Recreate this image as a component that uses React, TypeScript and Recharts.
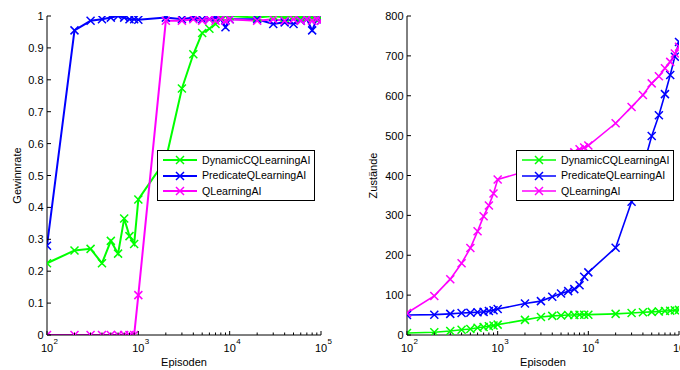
import React from 'react';
import { LineChart, Line, XAxis, YAxis, Legend } from 'recharts';

const episodes = [100, 200, 300, 400, 500, 600, 700, 800, 900, 1000, 2000, 3000, 4000, 5000, 6000, 7000, 8000, 9000, 10000, 20000, 30000, 40000, 50000, 60000, 70000, 80000, 90000, 100000];
const majorTicks = [100, 1000, 10000, 100000];
const majorExponents = ['2', '3', '4', '5'];

const winDynamic = [0.225, 0.265, 0.27, 0.225, 0.295, 0.255, 0.365, 0.31, 0.285, 0.425, 0.55, 0.773, 0.88, 0.947, 0.96, 0.975, 0.995, 1.0, 1.0, 0.995, 1.0, 0.995, 1.0, 0.995, 1.0, 0.995, 1.0, 0.995];
const winPredicate = [0.28, 0.955, 0.985, 0.99, 0.995, 1.0, 0.995, 0.99, 0.99, 0.988, 0.995, 0.99, 0.995, 0.99, 0.99, 0.995, 0.99, 0.965, 0.99, 0.99, 0.975, 0.98, 0.975, 0.985, 0.99, 0.955, 0.99, 0.985];
const winQ = [0, 0, 0, 0, 0, 0, 0, 0, 0, 0.125, 0.985, 0.985, 0.99, 0.985, 0.99, 0.985, 0.99, 0.985, 0.99, 0.985, 0.99, 0.985, 0.99, 0.985, 0.99, 0.985, 0.99, 0.985];

const statesDynamic = [5, 7, 10, 13, 15, 18, 20, 22, 24, 26, 38, 45, 48, 49, 50, 50, 51, 51, 51, 53, 55, 57, 58, 59, 60, 61, 62, 63];
const statesPredicate = [50, 51, 53, 55, 56, 57, 58, 60, 62, 65, 79, 85, 96, 104, 110, 115, 125, 146, 157, 219, 334, 420, 499, 551, 604, 652, 698, 735];
const statesQ = [55, 98, 140, 180, 218, 260, 298, 325, 355, 390, 410, 425, 435, 445, 452, 458, 466, 470, 475, 531, 572, 602, 631, 649, 669, 685, 706, 723];

const winTicks = [0, 0.1, 0.2, 0.3, 0.4, 0.5, 0.6, 0.7, 0.8, 0.9, 1];
const winTickLabels = ['0', '0.1', '0.2', '0.3', '0.4', '0.5', '0.6', '0.7', '0.8', '0.9', '1'];
const stateTicks = [0, 100, 200, 300, 400, 500, 600, 700, 800];
const stateTickLabels = ['0', '100', '200', '300', '400', '500', '600', '700', '800'];

const seriesNames = ['DynamicCQLearningAI', 'PredicateQLearningAI', 'QLearningAI'];
const seriesKeys = ['dyn', 'pred', 'q'];
const seriesColors = ['#00ff00', '#0000ff', '#ff00ff'];

const FONT = '"Liberation Sans", Arial, Helvetica, sans-serif';

const winData = episodes.map((e, i) => ({ ep: e, dyn: winDynamic[i], pred: winPredicate[i], q: winQ[i] }));
const stateData = episodes.map((e, i) => ({ ep: e, dyn: statesDynamic[i], pred: statesPredicate[i], q: statesQ[i] }));

const makeDot = (color: string, sw: number) => (props: any) => {
  const { cx, cy, index } = props;
  if (cx == null || cy == null) return <g key={`d${index}`} />;
  const s = 4;
  return (
    <path
      key={`d${index}`}
      d={`M${cx - s},${cy - s}L${cx + s},${cy + s}M${cx - s},${cy + s}L${cx + s},${cy - s}`}
      stroke={color}
      strokeWidth={sw}
      fill="none"
    />
  );
};

const BottomTick = (props: any) => {
  const { x, y, payload } = props;
  const v = payload.value;
  const mi = majorTicks.indexOf(v);
  const len = mi >= 0 ? 4 : 2.5;
  return (
    <g>
      <line x1={x} y1={y} x2={x} y2={y - len} stroke="#000" strokeWidth={1} />
      {mi >= 0 && (
        <text x={x} y={y + 17} textAnchor="middle" fontSize={11} fill="#000" fontFamily={FONT}>10</text>
      )}
      {mi >= 0 && (
        <text x={x + 6.5} y={y + 8.5} textAnchor="start" fontSize={8} fill="#000" fontFamily={FONT}>{majorExponents[mi]}</text>
      )}
    </g>
  );
};

const TopTick = (props: any) => {
  const { x, y, payload } = props;
  const len = majorTicks.indexOf(payload.value) >= 0 ? 4 : 2.5;
  return <line x1={x} y1={y} x2={x} y2={y + len} stroke="#000" strokeWidth={1} />;
};

const makeLeftTick = (ticks: number[], labels: string[]) => (props: any) => {
  const { x, y, payload } = props;
  const i = ticks.indexOf(payload.value);
  return (
    <g>
      <line x1={x} y1={y} x2={x + 4} y2={y} stroke="#000" strokeWidth={1} />
      <text x={x - 3.5} y={y} dy={4} textAnchor="end" fontSize={11} fill="#000" fontFamily={FONT}>{labels[i]}</text>
    </g>
  );
};

const RightTick = (props: any) => {
  const { x, y } = props;
  return <line x1={x} y1={y} x2={x - 4} y2={y} stroke="#000" strokeWidth={1} />;
};

const LegendBox = ({ sw }: { sw: number }) => (
  <div
    style={{
      boxSizing: 'border-box',
      width: 158,
      height: 51,
      border: '1px solid #000',
      background: '#fff',
      paddingTop: 1.5,
      fontFamily: FONT,
      fontSize: 10.6,
      color: '#000',
    }}
  >
    {seriesNames.map((n, i) => (
      <div key={n} style={{ display: 'flex', alignItems: 'center', height: 15.5, lineHeight: '15.5px' }}>
        <svg width={44} height={12} style={{ display: 'block', flex: 'none' }}>
          <line x1={5} y1={6} x2={39} y2={6} stroke={seriesColors[i]} strokeWidth={sw} />
          <path d="M18,2L26,10M18,10L26,2" stroke={seriesColors[i]} strokeWidth={1.5} fill="none" />
        </svg>
        <span style={{ whiteSpace: 'nowrap' }}>{n}</span>
      </div>
    ))}
  </div>
);

const yLabel = (text: string, dx: number) => (props: any) => {
  const vb = props.viewBox || {};
  const cx = (vb.x || 0) + dx;
  const cy = (vb.y || 0) + (vb.height || 0) / 2;
  return (
    <text
      x={cx}
      y={cy}
      transform={`rotate(-90, ${cx}, ${cy})`}
      textAnchor="middle"
      dominantBaseline="central"
      fontSize={11}
      fill="#000"
      fontFamily={FONT}
    >
      {text}
    </text>
  );
};

const xLabel = (props: any) => {
  const vb = props.viewBox || {};
  const cx = (vb.x || 0) + (vb.width || 0) / 2;
  const y = (vb.y || 0) + 31;
  return (
    <text x={cx} y={y} textAnchor="middle" fontSize={11} fill="#000" fontFamily={FONT}>Episoden</text>
  );
};

type PanelProps = {
  data: any[];
  yTicks: number[];
  yLabels: string[];
  yDomain: [number, number];
  yAxisWidth: number;
  rightMargin: number;
  yTitle: string;
  yTitleDx: number;
  lineWidth: number;
  legendLeft: number;
};

const Panel = (p: PanelProps) => (
  <LineChart
    width={340}
    height={370}
    data={p.data}
    margin={{ top: 16, right: p.rightMargin, bottom: 0, left: 0 }}
    style={{ fontFamily: FONT }}
  >
    <XAxis
      dataKey="ep"
      type="number"
      scale="log"
      domain={[100, 100000]}
      ticks={episodes}
      interval={0}
      height={35}
      tickSize={0}
      tickMargin={0}
      tickLine={false}
      axisLine={{ stroke: '#000', strokeWidth: 1 }}
      tick={BottomTick}
      allowDataOverflow
      label={{ content: xLabel }}
    />
    <XAxis
      xAxisId="top"
      orientation="top"
      dataKey="ep"
      type="number"
      scale="log"
      domain={[100, 100000]}
      ticks={episodes}
      interval={0}
      height={0}
      tickSize={0}
      tickMargin={0}
      tickLine={false}
      axisLine={{ stroke: '#000', strokeWidth: 1 }}
      tick={TopTick}
      allowDataOverflow
    />
    <YAxis
      type="number"
      domain={p.yDomain}
      ticks={p.yTicks}
      interval={0}
      width={p.yAxisWidth}
      tickSize={0}
      tickMargin={0}
      tickLine={false}
      axisLine={{ stroke: '#000', strokeWidth: 1 }}
      tick={makeLeftTick(p.yTicks, p.yLabels)}
      allowDataOverflow
      label={{ content: yLabel(p.yTitle, p.yTitleDx) }}
    />
    <YAxis
      yAxisId="right"
      orientation="right"
      type="number"
      domain={p.yDomain}
      ticks={p.yTicks}
      interval={0}
      width={0}
      tickSize={0}
      tickMargin={0}
      tickLine={false}
      axisLine={{ stroke: '#000', strokeWidth: 1 }}
      tick={RightTick}
      allowDataOverflow
    />
    {seriesKeys.map((k, i) => (
      <Line
        key={k}
        dataKey={k}
        name={seriesNames[i]}
        type="linear"
        stroke={seriesColors[i]}
        strokeWidth={p.lineWidth}
        dot={makeDot(seriesColors[i], 1.5)}
        activeDot={false}
        isAnimationActive={false}
      />
    ))}
    <Legend
      layout="horizontal"
      verticalAlign="middle"
      align="center"
      wrapperStyle={{ left: p.legendLeft, top: 150, width: 158, height: 51 }}
      content={() => <LegendBox sw={p.lineWidth} />}
    />
  </LineChart>
);

export default function App() {
  return (
    <div style={{ position: 'absolute', left: 0, top: 0, width: 680, height: 370, background: '#fff', overflow: 'hidden' }}>
      <div style={{ position: 'absolute', left: 0, top: 0 }}>
        <Panel
          data={winData}
          yTicks={winTicks}
          yLabels={winTickLabels}
          yDomain={[0, 1]}
          yAxisWidth={47}
          rightMargin={19}
          yTitle="Gewinnrate"
          yTitleDx={17}
          lineWidth={2}
          legendLeft={157}
        />
      </div>
      <div style={{ position: 'absolute', left: 340, top: 0 }}>
        <Panel
          data={stateData}
          yTicks={stateTicks}
          yLabels={stateTickLabels}
          yDomain={[0, 800]}
          yAxisWidth={67}
          rightMargin={1}
          yTitle="Zustände"
          yTitleDx={32.5}
          lineWidth={1.6}
          legendLeft={176}
        />
      </div>
    </div>
  );
}
